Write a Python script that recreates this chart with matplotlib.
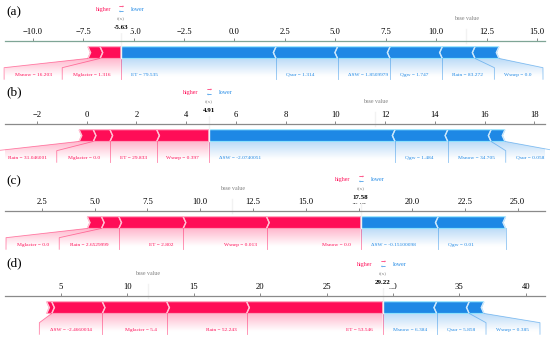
import numpy as np
import matplotlib
matplotlib.use("Agg")
import matplotlib.pyplot as plt
from matplotlib import lines
from matplotlib.path import Path
from matplotlib.patches import PathPatch, Polygon
from matplotlib.colors import LinearSegmentedColormap

plt.rcParams['font.family'] = ['Liberation Serif', 'DejaVu Serif']
plt.rcParams['mathtext.fontset'] = 'dejavuserif'

# ---------------- data ----------------
panel_tags = ['(a)', '(b)', '(c)', '(d)']
base_values = [11.48, 11.61, 11.51, 11.55]

a_features = ['Msnow', 'Mglacier', 'ET', 'Qsur', 'ΔSW', 'Qgw', 'Rain', 'Wsnep']
a_values = ['16.203', '1.316', '79.535', '1.314', '1.8509979', '1.747', '83.272', '0.0']
a_shap = [0.60, 1.03, -7.69, -3.05, -2.60, -2.59, -1.62, -1.19]

b_features = ['Rain', 'Mglacier', 'ET', 'Wsnep', 'ΔSW', 'Qgw', 'Msnow', 'Qsur']
b_values = ['31.046001', '0.0', '29.833', '0.397', '-2.0740051', '1.484', '34.705', '0.058']
b_shap = [0.57, 0.67, 1.88, 2.09, -7.49, -2.12, -1.74, -0.56]

c_features = ['Mglacier', 'Rain', 'ET', 'Wsnep', 'Msnow', 'ΔSW', 'Qgw']
c_values = ['0.0', '2.6529999', '2.802', '0.013', '0.0', '-0.15100098', '0.01']
c_shap = [0.67, 0.82, 3.04, 3.94, 4.45, -3.66, -3.19]

d_features = ['Qgw', 'ΔSW', 'Mglacier', 'Rain', 'ET', 'Msnow', 'Qsur', 'Wsnep']
d_values = ['', '-2.4660034', '5.4', '52.243', '53.546', '6.384', '5.858', '0.385']
d_shap = [0.38, 3.81, 4.85, 6.02, 10.24, -4.07, -2.45, -1.11]

panel_features = [a_features, b_features, c_features, d_features]
panel_values = [a_values, b_values, c_values, d_values]
panel_shap = [a_shap, b_shap, c_shap, d_shap]

# ---------------- layout ----------------
W, H = 550, 342
xlims = [(-11.37, 15.39), (-3.28, 18.43), (0.77, 26.29), (0.78, 41.45)]
spine_y = [41, 124, 211, 296]
tag_y = [12, 92, 181, 263]
spine_colors = ['#7fa596', '#8a8a8a', '#8a8a8a', '#8a8a8a']
PX_PER_UNIT_Y = 116.0

RED, RED_LIGHT, RED_EDGE = '#FF0D57', '#FFC3D5', '#FF9CBA'
BLUE, BLUE_LIGHT, BLUE_EDGE = '#1E88E5', '#D1E6FA', '#8FE6FF'

FS_LABEL = 3.85
FS_TICK = 6.2
FS_OUT = 5.0
FS_NAME = 3.8
FS_HL = 4.2
FS_TAG = 9.5
MIN_PERC = 0.02

fig = plt.figure(figsize=(W / 100, H / 100), dpi=100)


def format_features(names, vals, shap, out_value):
    shap = np.asarray(shap, dtype=float)
    order = np.argsort(-np.abs(shap), kind='stable')
    pos, neg = [], []
    cp, cn = 0.0, 0.0
    for i in order:
        if shap[i] > 0:
            cp += shap[i]
            pos.append((out_value - cp, vals[i], names[i]))
        elif shap[i] < 0:
            cn += -shap[i]
            neg.append((out_value + cn, vals[i], names[i]))
    return pos, neg, cp, -cn


def draw_bars(ax, out_value, feats, ftype, wsep, wbar):
    rects, seps = [], []
    pre_val = out_value
    for index, f in enumerate(feats):
        if ftype == 'positive':
            left, right = f[0], pre_val
            pre_val = left
            indent = abs(wsep)
            sep_pos = left
            colors = (RED, RED_LIGHT, RED_EDGE)
        else:
            left, right = pre_val, f[0]
            pre_val = right
            indent = -abs(wsep)
            sep_pos = right
            colors = (BLUE, BLUE_LIGHT, BLUE_EDGE)
        if index == 0:
            if ftype == 'positive':
                pts = [[left, 0], [right, 0], [right, wbar], [left, wbar],
                       [left + indent, wbar / 2]]
            else:
                pts = [[right, 0], [left, 0], [left, wbar], [right, wbar],
                       [right + indent, wbar / 2]]
        else:
            pts = [[left, 0], [right, 0], [right + indent * 0.9, wbar / 2],
                   [right, wbar], [left, wbar], [left + indent * 0.9, wbar / 2]]
        rects.append(Polygon(pts, closed=True, fill=True, facecolor=colors[0],
                             edgecolor=colors[2], linewidth=0.7))
        seps.append(Polygon([[sep_pos, 0], [sep_pos + indent, wbar / 2],
                             [sep_pos, wbar]], closed=False, fill=False,
                            edgecolor=colors[1], lw=1.0))
    for r in rects:
        ax.add_patch(r)
    for s in seps:
        ax.add_patch(s)


def draw_labels(ax, out_value, feats, ftype, offset_text, total_effect):
    start_text = out_value
    pre_val = out_value
    if ftype == 'positive':
        colors = (RED, RED_LIGHT)
        align = 'right'
        sign = 1
        ln = lines.Line2D([pre_val, pre_val], [0, -0.18], lw=0.6, alpha=0.5,
                          color=colors[0])
        ln.set_clip_on(False)
        ax.add_line(ln)
    else:
        colors = (BLUE, BLUE_LIGHT)
        align = 'left'
        sign = -1
    box_end = out_value
    for f in feats:
        contribution = abs(f[0] - pre_val) / abs(total_effect)
        if contribution < MIN_PERC:
            break
        val = f[0]
        text = f[2] + ' = ' + f[1]
        t = ax.text(start_text - sign * offset_text, -0.15, text,
                    fontsize=FS_LABEL, color=colors[0], ha=align,
                    va='baseline')
        t.set_bbox(dict(facecolor='none', edgecolor='none', pad=0.8))
        fig.canvas.draw()
        box = t.get_bbox_patch().get_extents().transformed(
            ax.transData.inverted())
        if ftype == 'positive':
            box_end_ = box.get_points()[0][0]
        else:
            box_end_ = box.get_points()[1][0]
        if sign * box_end_ > sign * val:
            ln = lines.Line2D([val, val], [0, -0.18], lw=0.6, alpha=0.5,
                              color=colors[0])
            start_text = val
            box_end = val
        else:
            box_end = box_end_ - sign * offset_text
            ln = lines.Line2D([val, box_end, box_end], [0, -0.08, -0.18],
                              lw=0.6, alpha=0.5, color=colors[0])
            start_text = box_end
        ln.set_clip_on(False)
        ax.add_line(ln)
        pre_val = f[0]

    path = Path([[out_value, 0], [pre_val, 0], [box_end, -0.08],
                 [box_end, -0.2], [out_value, -0.2], [out_value, 0]])
    patch = PathPatch(path, facecolor='none', edgecolor='none')
    ax.add_patch(patch)
    if ftype == 'positive':
        cols = np.array([(255, 13, 87), (255, 255, 255)]) / 255.
    else:
        cols = np.array([(30, 136, 229), (255, 255, 255)]) / 255.
    cm = LinearSegmentedColormap.from_list('cm', cols)
    _, Z2 = np.meshgrid(np.linspace(0, 10), np.linspace(-10, 10))
    im = ax.imshow(Z2, interpolation='quadric', cmap=cm, vmax=0.01, alpha=0.3,
                   origin='lower', extent=[out_value, box_end, 0, -0.31],
                   aspect='auto', clip_on=True)
    im.set_clip_path(patch)


for k in range(4):
    xl = xlims[k]
    ax_h = 0.65 * PX_PER_UNIT_Y
    ax = fig.add_axes([5 / W, 1 - (spine_y[k] + ax_h) / H, 540 / W, ax_h / H])
    ax.set_xlim(*xl)
    ax.set_ylim(-0.5, 0.15)
    ax.set_facecolor('none')
    base = base_values[k]
    shap = np.asarray(panel_shap[k], dtype=float)
    out_value = base + shap.sum()
    pos, neg, total_pos, total_neg = format_features(
        panel_features[k], panel_values[k], shap, out_value)

    ax.tick_params(top=True, bottom=False, left=False, right=False,
                   labelleft=False, labeltop=True, labelbottom=False,
                   labelsize=FS_TICK, length=2, width=0.6, pad=1.5,
                   color='#777777')
    ax.locator_params(axis='x', nbins=12)
    for key, sp in ax.spines.items():
        if key != 'top':
            sp.set_visible(False)
    ax.spines['top'].set_color(spine_colors[k])
    ax.spines['top'].set_linewidth(0.9)

    rng = xl[1] - xl[0]
    width_bar = 0.1
    wsep = rng / 200
    draw_bars(ax, out_value, neg, 'negative', wsep, width_bar)
    draw_bars(ax, out_value, pos, 'positive', wsep, width_bar)

    offset_text = rng * 0.0185
    total_effect = abs(total_neg) + total_pos
    draw_labels(ax, out_value, neg, 'negative', offset_text, total_effect)
    draw_labels(ax, out_value, pos, 'positive', offset_text, total_effect)

    # higher / lower
    ax.text(out_value - offset_text, 0.405, 'higher', fontsize=FS_HL,
            color=RED, ha='right')
    ax.text(out_value + offset_text, 0.405, 'lower', fontsize=FS_HL,
            color=BLUE, ha='left')
    ax.text(out_value, 0.39, r'$\leftarrow$', fontsize=FS_HL, color=BLUE,
            ha='center')
    ax.text(out_value, 0.435, r'$\rightarrow$', fontsize=FS_HL, color=RED,
            ha='center')

    # base value
    ln = lines.Line2D([base, base], [0.13, 0.25], lw=1.0, color='#F2F2F2')
    ln.set_clip_on(False)
    ax.add_line(ln)
    t = ax.text(base, 0.33, 'base value', fontsize=FS_HL, alpha=0.5,
                ha='center')
    t.set_bbox(dict(facecolor='white', edgecolor='white', pad=FS_HL / 3))

    # output value
    ln = lines.Line2D([out_value, out_value], [0, 0.24], lw=1.0,
                      color='#F2F2F2')
    ln.set_clip_on(False)
    ax.add_line(ln)
    t = ax.text(out_value, 0.25, '{0:.2f}'.format(out_value),
                fontsize=FS_OUT, fontweight='bold', ha='center')
    t.set_bbox(dict(facecolor='white', edgecolor='white', pad=FS_OUT / 3.5))
    t = ax.text(out_value, 0.33, 'f(x)', fontsize=FS_NAME, alpha=0.5,
                ha='center')
    t.set_bbox(dict(facecolor='white', edgecolor='white', pad=FS_NAME / 3))

    ax.set_xlim(*xl)
    ax.set_ylim(-0.5, 0.15)

    fig.text(6 / W, 1 - tag_y[k] / H, panel_tags[k], fontsize=FS_TAG,
             ha='left', va='center')

fig.savefig('out.png', dpi=100)
